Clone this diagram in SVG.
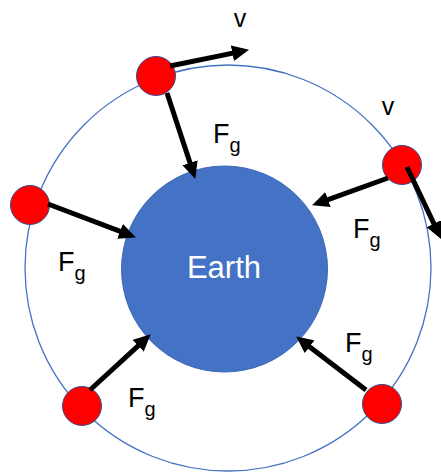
<svg xmlns="http://www.w3.org/2000/svg" width="441" height="473" viewBox="0 0 441 473">
  <style>
    .orbit { fill: none; stroke: #4472C4; stroke-width: 1.3; }
    .earth { fill: #4472C4; stroke: #3F68B5; stroke-width: 1; }
    .sat { fill: #FF0000; stroke: #2F528F; stroke-width: 1; }
    .arrow { stroke: #000000; stroke-width: 5; fill: none; marker-end: url(#head); }
    .lbl { font-family: 'Liberation Sans', Arial, sans-serif; font-size: 27px; fill: #000000; }
    .sub { font-size: 20px; }
    .v { font-family: 'Liberation Sans', Arial, sans-serif; font-size: 25px; fill: #000000; text-anchor: middle; }
    .earthtxt { font-family: 'Liberation Sans', Arial, sans-serif; font-size: 31px; fill: #FFFFFF; text-anchor: middle; }
  </style>
  <defs>
    <marker id="head" markerUnits="userSpaceOnUse" markerWidth="17" markerHeight="16" viewBox="0 0 17 16" refX="8" refY="8" orient="auto">
      <path d="M0,0 L17,8 L0,16 z" fill="#000000"/>
    </marker>
  </defs>
  <rect width="441" height="473" fill="#FFFFFF"/>
  <g id="orbit">
    <circle class="orbit" cx="228" cy="268" r="203"/>
  </g>
  <g id="earth">
    <circle class="earth" cx="224.5" cy="269" r="103"/>
    <text class="earthtxt" x="224" y="278">Earth</text>
  </g>
  <g id="sat-top"><circle class="sat" cx="156" cy="76" r="19.5"/></g>
  <g id="sat-right"><circle class="sat" cx="402" cy="165" r="19.5"/></g>
  <g id="sat-left"><circle class="sat" cx="30" cy="205" r="19.5"/></g>
  <g id="sat-bottom-left"><circle class="sat" cx="82" cy="406" r="19.5"/></g>
  <g id="sat-bottom-right"><circle class="sat" cx="382" cy="404" r="19.5"/></g>
  <g id="connectors">
    <line class="arrow" x1="170" y1="66" x2="240.2" y2="51.6"/>
    <line class="arrow" x1="167" y1="93" x2="192.5" y2="170.4"/>
    <line class="arrow" x1="388" y1="178" x2="320.5" y2="202.3"/>
    <line class="arrow" x1="407" y1="167" x2="437.3" y2="230.9"/>
    <line class="arrow" x1="48" y1="204" x2="127.5" y2="234.2"/>
    <line class="arrow" x1="90" y1="390" x2="144.1" y2="340.4"/>
    <line class="arrow" x1="366" y1="390" x2="303.3" y2="341.9"/>
  </g>
  <g id="labels">
    <text class="v" x="240" y="27">v</text>
    <text class="v" x="388" y="115">v</text>
    <text class="lbl" x="213" y="143">F<tspan class="sub" dy="9">g</tspan></text>
    <text class="lbl" x="353" y="238">F<tspan class="sub" dy="9">g</tspan></text>
    <text class="lbl" x="58" y="271">F<tspan class="sub" dy="9">g</tspan></text>
    <text class="lbl" x="128" y="407">F<tspan class="sub" dy="9">g</tspan></text>
    <text class="lbl" x="345" y="352">F<tspan class="sub" dy="9">g</tspan></text>
  </g>
</svg>
